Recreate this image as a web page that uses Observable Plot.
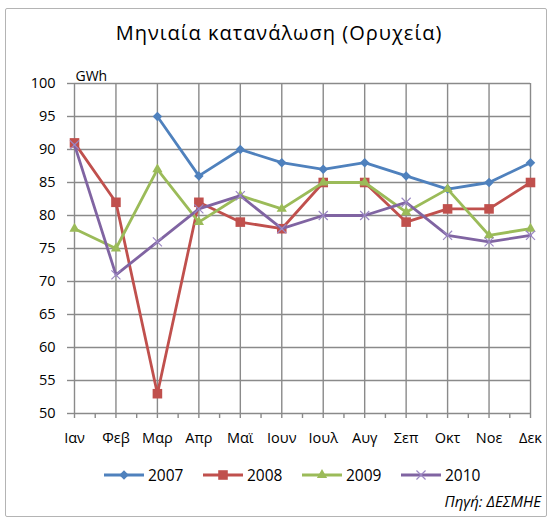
<!DOCTYPE html>
<html><head><meta charset="utf-8">
<script src="https://cdn.jsdelivr.net/npm/d3@7"></script>
<script src="https://cdn.jsdelivr.net/npm/@observablehq/plot@0.6"></script>
<style>
body{margin:0;background:#fff;font-family:"Open Sans",sans-serif;}
#wrap{position:relative;width:553px;height:523px;overflow:hidden;background:#fff;}
#frame{position:absolute;left:5px;top:8px;width:542px;height:509px;border:1px solid #b4b4b4;border-radius:2px;box-sizing:border-box;}
#title{position:absolute;left:0;width:558px;top:19px;text-align:center;font-size:20px;letter-spacing:1px;color:#000;white-space:nowrap;}
#chart{position:absolute;left:0;top:60px;}
#legend{position:absolute;top:464px;left:103px;display:flex;align-items:center;font-size:15.5px;color:#000;}
#legend .item{display:flex;align-items:center;width:99px;}
#legend svg{margin-right:3px;}
#source{position:absolute;right:12px;top:491px;font-style:italic;font-size:15px;color:#000;}
</style></head>
<body>
<div id="wrap">
  <div id="frame"></div>
  <div id="title">Μηνιαία κατανάλωση (Ορυχεία)</div>
  <div id="chart"></div>
  <div id="legend"></div>
  <div id="source">Πηγή: ΔΕΣΜΗΕ</div>
</div>
<script>
const months = ["Ιαν","Φεβ","Μαρ","Απρ","Μαϊ","Ιουν","Ιουλ","Αυγ","Σεπ","Οκτ","Νοε","Δεκ"];
const v2007 = [null,null,95,86,90,88,87,88,86,84,85,88];
const v2008 = [91,82,53,82,79,78,85,85,79,81,81,85];
const v2009 = [78,75,87,79,83,81,85,85,80.5,84,77,78];
const v2010 = [90.7,71,76,81,83,78,80,80,82,77,76,77];
const yTicks = [50,55,60,65,70,75,80,85,90,95,100];
const seriesNames = ["2007","2008","2009","2010"];
const seriesValues = [v2007, v2008, v2009, v2010];
const seriesColors = ["#4F81BD","#C0504D","#9BBB59","#8064A2"];
const seriesSymbols = ["diamond2","square","triangle","times"];
const seriesR = [4.3, 5.4, 3.8, 4.2];

const idx = d3.range(months.length);
const minor = d3.range(months.length - 1).map(i => i + 0.5);
const grid = "#8a8a8a";

const marks = [
  Plot.gridY(yTicks, {stroke: grid, strokeOpacity: 1, strokeWidth: 1.4}),
  Plot.gridX(idx, {stroke: grid, strokeOpacity: 1, strokeWidth: 1.4}),
  Plot.axisY(yTicks, {tickSize: 7, tickPadding: 12, stroke: grid, strokeWidth: 1.4, fill: "#000", fontSize: 14.5}),
  Plot.axisX(idx, {tickSize: 5, tickPadding: 14, stroke: grid, strokeWidth: 1.4, fill: "#000", fontSize: 14.5, tickFormat: i => months[i]}),
  Plot.axisX(minor, {tickSize: 5, stroke: grid, strokeWidth: 1.4, tickFormat: () => ""}),
  Plot.text(["GWh"], {frameAnchor: "top-left", dx: 1, dy: -12, textAnchor: "start", fontSize: 14, fill: "#000"})
];
seriesValues.forEach((vals, s) => {
  const c = seriesColors[s];
  marks.push(Plot.lineY(vals, {x: (d, i) => i, y: d => d, stroke: c, strokeWidth: 2.8, strokeLinejoin: "round", strokeLinecap: "round"}));
  if (seriesSymbols[s] === "times") {
    marks.push(Plot.dot(vals, {x: (d, i) => i, y: d => d, symbol: "times", r: seriesR[s], stroke: "#9C88C4", strokeWidth: 1.2, fill: "none"}));
  } else {
    marks.push(Plot.dot(vals, {x: (d, i) => i, y: d => d, symbol: seriesSymbols[s], r: seriesR[s], fill: c, stroke: "none"}));
  }
});

const plot = Plot.plot({
  width: 553, height: 400,
  marginLeft: 74, marginRight: 23, marginTop: 23, marginBottom: 47,
  style: {fontFamily: "'Open Sans', sans-serif", fontSize: "14px", color: "#000", background: "transparent"},
  x: {type: "linear", domain: [0, months.length - 1], axis: null},
  y: {type: "linear", domain: [50, 100], axis: null},
  marks
});
document.getElementById("chart").appendChild(plot);

// legend
const leg = document.getElementById("legend");
seriesNames.forEach((name, s) => {
  const item = document.createElement("div");
  item.className = "item";
  const ns = "http://www.w3.org/2000/svg";
  const svg = document.createElementNS(ns, "svg");
  svg.setAttribute("width", 42); svg.setAttribute("height", 14);
  const line = document.createElementNS(ns, "line");
  line.setAttribute("x1", 1); line.setAttribute("x2", 41);
  line.setAttribute("y1", 7); line.setAttribute("y2", 7);
  line.setAttribute("stroke", seriesColors[s]); line.setAttribute("stroke-width", 2.8);
  svg.appendChild(line);
  const symMap = {diamond2: d3.symbolDiamond2, square: d3.symbolSquare, triangle: d3.symbolTriangle, times: d3.symbolTimes};
  const r = seriesR[s];
  const p = document.createElementNS(ns, "path");
  p.setAttribute("d", d3.symbol(symMap[seriesSymbols[s]], Math.PI * r * r)());
  p.setAttribute("transform", "translate(21,7)");
  if (seriesSymbols[s] === "times") { p.setAttribute("fill", "none"); p.setAttribute("stroke", "#9C88C4"); p.setAttribute("stroke-width", 1.2); }
  else p.setAttribute("fill", seriesColors[s]);
  svg.appendChild(p);
  item.appendChild(svg);
  const t = document.createElement("span");
  t.textContent = name;
  item.appendChild(t);
  leg.appendChild(item);
});
</script>
</body></html>
